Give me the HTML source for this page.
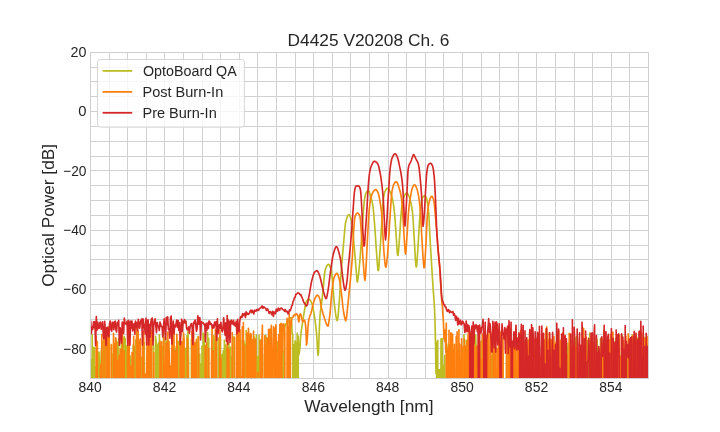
<!DOCTYPE html>
<html><head><meta charset="utf-8"><title>D4425 V20208 Ch. 6</title>
<style>
html,body{margin:0;padding:0;background:#fff;}
body{width:720px;height:432px;overflow:hidden;font-family:"Liberation Sans", sans-serif;}
svg{display:block;will-change:transform;}
svg text{font-family:"Liberation Sans", sans-serif;fill:#262626;}
</style></head><body>
<svg width="720" height="432" viewBox="0 0 720 432">
<rect x="0" y="0" width="720" height="432" fill="#ffffff"/>
<defs><clipPath id="ax"><rect x="90.0" y="51.84" width="558.0" height="326.15999999999997"/></clipPath></defs>
<g stroke="#d1d1d1" stroke-width="1" fill="none">
<line x1="109.5" y1="52.5" x2="109.5" y2="378.5"/>
<line x1="127.5" y1="52.5" x2="127.5" y2="378.5"/>
<line x1="146.5" y1="52.5" x2="146.5" y2="378.5"/>
<line x1="164.5" y1="52.5" x2="164.5" y2="378.5"/>
<line x1="183.5" y1="52.5" x2="183.5" y2="378.5"/>
<line x1="202.5" y1="52.5" x2="202.5" y2="378.5"/>
<line x1="220.5" y1="52.5" x2="220.5" y2="378.5"/>
<line x1="239.5" y1="52.5" x2="239.5" y2="378.5"/>
<line x1="257.5" y1="52.5" x2="257.5" y2="378.5"/>
<line x1="276.5" y1="52.5" x2="276.5" y2="378.5"/>
<line x1="295.5" y1="52.5" x2="295.5" y2="378.5"/>
<line x1="313.5" y1="52.5" x2="313.5" y2="378.5"/>
<line x1="332.5" y1="52.5" x2="332.5" y2="378.5"/>
<line x1="350.5" y1="52.5" x2="350.5" y2="378.5"/>
<line x1="369.5" y1="52.5" x2="369.5" y2="378.5"/>
<line x1="388.5" y1="52.5" x2="388.5" y2="378.5"/>
<line x1="406.5" y1="52.5" x2="406.5" y2="378.5"/>
<line x1="425.5" y1="52.5" x2="425.5" y2="378.5"/>
<line x1="443.5" y1="52.5" x2="443.5" y2="378.5"/>
<line x1="462.5" y1="52.5" x2="462.5" y2="378.5"/>
<line x1="481.5" y1="52.5" x2="481.5" y2="378.5"/>
<line x1="499.5" y1="52.5" x2="499.5" y2="378.5"/>
<line x1="518.5" y1="52.5" x2="518.5" y2="378.5"/>
<line x1="536.5" y1="52.5" x2="536.5" y2="378.5"/>
<line x1="555.5" y1="52.5" x2="555.5" y2="378.5"/>
<line x1="574.5" y1="52.5" x2="574.5" y2="378.5"/>
<line x1="592.5" y1="52.5" x2="592.5" y2="378.5"/>
<line x1="611.5" y1="52.5" x2="611.5" y2="378.5"/>
<line x1="629.5" y1="52.5" x2="629.5" y2="378.5"/>
<line x1="90.5" y1="67.5" x2="648.5" y2="67.5"/>
<line x1="90.5" y1="81.5" x2="648.5" y2="81.5"/>
<line x1="90.5" y1="96.5" x2="648.5" y2="96.5"/>
<line x1="90.5" y1="111.5" x2="648.5" y2="111.5"/>
<line x1="90.5" y1="126.5" x2="648.5" y2="126.5"/>
<line x1="90.5" y1="141.5" x2="648.5" y2="141.5"/>
<line x1="90.5" y1="156.5" x2="648.5" y2="156.5"/>
<line x1="90.5" y1="170.5" x2="648.5" y2="170.5"/>
<line x1="90.5" y1="185.5" x2="648.5" y2="185.5"/>
<line x1="90.5" y1="200.5" x2="648.5" y2="200.5"/>
<line x1="90.5" y1="215.5" x2="648.5" y2="215.5"/>
<line x1="90.5" y1="230.5" x2="648.5" y2="230.5"/>
<line x1="90.5" y1="245.5" x2="648.5" y2="245.5"/>
<line x1="90.5" y1="259.5" x2="648.5" y2="259.5"/>
<line x1="90.5" y1="274.5" x2="648.5" y2="274.5"/>
<line x1="90.5" y1="289.5" x2="648.5" y2="289.5"/>
<line x1="90.5" y1="304.5" x2="648.5" y2="304.5"/>
<line x1="90.5" y1="319.5" x2="648.5" y2="319.5"/>
<line x1="90.5" y1="334.5" x2="648.5" y2="334.5"/>
<line x1="90.5" y1="348.5" x2="648.5" y2="348.5"/>
<line x1="90.5" y1="363.5" x2="648.5" y2="363.5"/>
</g>
<g clip-path="url(#ax)" fill="none" stroke-width="1.65" stroke-linejoin="round" stroke-linecap="butt">
<path stroke="#bcbd22" d="M90.0,733.8 L90.6,733.8 L91.1,359.8 L91.7,733.8 L92.2,334.8 L92.8,733.8 L93.4,347.4 L93.9,733.8 L94.5,347.8 L95.0,733.8 L95.6,366.8 L96.2,733.8 L96.7,733.8 L97.3,346.6 L97.8,733.8 L98.4,733.8 L99.0,352.0 L99.5,363.1 L100.1,733.8 L100.6,733.8 L101.2,350.9 L101.8,733.8 L102.3,733.8 L102.9,340.8 L103.4,733.8 L104.0,733.8 L104.6,352.7 L105.1,335.7 L105.7,733.8 L106.2,338.9 L106.8,375.2 L107.4,733.8 L107.9,353.4 L108.5,733.8 L109.0,336.1 L109.6,347.3 L110.2,733.8 L110.7,733.8 L111.3,733.8 L111.8,733.8 L112.4,354.3 L113.0,733.8 L113.5,344.7 L114.1,733.8 L114.6,733.8 L115.2,361.5 L115.8,353.4 L116.3,733.8 L116.9,342.1 L117.4,362.2 L118.0,733.8 L118.6,338.6 L119.1,733.8 L119.7,733.8 L120.2,354.6 L120.8,733.8 L121.4,337.3 L121.9,733.8 L122.5,338.3 L123.0,733.8 L123.6,733.8 L124.2,336.6 L124.7,733.8 L125.3,338.5 L125.8,733.8 L126.4,354.0 L127.0,345.6 L127.5,733.8 L128.1,733.8 L128.6,733.8 L129.2,340.7 L129.8,733.8 L130.3,356.0 L130.9,733.8 L131.4,733.8 L132.0,733.8 L132.6,733.8 L133.1,345.2 L133.7,733.8 L134.2,733.8 L134.8,346.2 L135.4,346.7 L135.9,339.9 L136.5,733.8 L137.0,350.5 L137.6,361.0 L138.2,362.3 L138.7,733.8 L139.3,348.8 L139.8,733.8 L140.4,733.8 L141.0,733.8 L141.5,357.4 L142.1,733.8 L142.6,361.2 L143.2,733.8 L143.8,346.8 L144.3,342.6 L144.9,733.8 L145.4,733.8 L146.0,733.8 L146.6,733.8 L147.1,733.8 L147.7,348.9 L148.2,733.8 L148.8,343.6 L149.4,733.8 L149.9,346.2 L150.5,386.2 L151.0,733.8 L151.6,733.8 L152.2,733.8 L152.7,733.8 L153.3,345.2 L153.8,733.8 L154.4,733.8 L155.0,733.8 L155.5,336.4 L156.1,341.0 L156.6,733.8 L157.2,344.8 L157.8,733.8 L158.3,343.1 L158.9,733.8 L159.4,334.9 L160.0,733.8 L160.6,346.0 L161.1,354.2 L161.7,733.8 L162.2,346.2 L162.8,733.8 L163.4,329.2 L163.9,733.8 L164.5,733.8 L165.0,733.8 L165.6,341.0 L166.2,355.4 L166.7,733.8 L167.3,337.8 L167.8,341.0 L168.4,733.8 L169.0,350.7 L169.5,733.8 L170.1,733.8 L170.6,733.8 L171.2,733.8 L171.8,733.8 L172.3,358.3 L172.9,349.2 L173.4,733.8 L174.0,733.8 L174.6,733.8 L175.1,349.3 L175.7,733.8 L176.2,346.2 L176.8,733.8 L177.4,733.8 L177.9,341.4 L178.5,733.8 L179.0,341.5 L179.6,733.8 L180.2,733.8 L180.7,733.8 L181.3,345.6 L181.8,733.8 L182.4,733.8 L183.0,356.8 L183.5,338.5 L184.1,733.8 L184.6,733.8 L185.2,351.9 L185.8,348.4 L186.3,733.8 L186.9,335.7 L187.4,733.8 L188.0,331.6 L188.6,362.1 L189.1,733.8 L189.7,733.8 L190.2,733.8 L190.8,733.8 L191.4,339.6 L191.9,350.4 L192.5,733.8 L193.0,733.8 L193.6,733.8 L194.2,733.8 L194.7,733.8 L195.3,733.8 L195.8,342.5 L196.4,733.8 L197.0,341.4 L197.5,733.8 L198.1,336.5 L198.6,348.5 L199.2,733.8 L199.8,354.0 L200.3,733.8 L200.9,364.3 L201.4,733.8 L202.0,346.1 L202.6,733.8 L203.1,333.0 L203.7,733.8 L204.2,334.0 L204.8,733.8 L205.4,347.1 L205.9,347.4 L206.5,733.8 L207.0,733.8 L207.6,332.6 L208.2,733.8 L208.7,338.4 L209.3,733.8 L209.8,733.8 L210.4,733.8 L211.0,733.8 L211.5,733.8 L212.1,348.3 L212.6,733.8 L213.2,733.8 L213.8,335.7 L214.3,344.3 L214.9,733.8 L215.4,376.5 L216.0,733.8 L216.6,733.8 L217.1,733.8 L217.7,733.8 L218.2,337.8 L218.8,733.8 L219.4,348.0 L219.9,733.8 L220.5,336.4 L221.0,733.8 L221.6,733.8 L222.2,354.5 L222.7,733.8 L223.3,350.6 L223.8,733.8 L224.4,340.0 L225.0,733.8 L225.5,345.1 L226.1,733.8 L226.6,348.3 L227.2,733.8 L227.8,347.5 L228.3,733.8 L228.9,343.1 L229.4,733.8 L230.0,733.8 L230.6,347.0 L231.1,733.8 L231.7,356.9 L232.2,733.8 L232.8,345.6 L233.4,733.8 L233.9,336.6 L234.5,733.8 L235.0,385.6 L235.6,733.8 L236.2,733.8 L236.7,733.8 L237.3,332.8 L237.8,733.8 L238.4,336.8 L239.0,354.0 L239.5,733.8 L240.1,733.8 L240.6,339.6 L241.2,733.8 L241.8,733.8 L242.3,733.8 L242.9,372.8 L243.4,733.8 L244.0,341.0 L244.6,733.8 L245.1,344.3 L245.7,733.8 L246.2,330.6 L246.8,733.8 L247.4,733.8 L247.9,733.8 L248.5,733.8 L249.0,733.8 L249.6,353.9 L250.2,733.8 L250.7,340.5 L251.3,733.8 L251.8,733.8 L252.4,343.0 L253.0,733.8 L253.5,733.8 L254.1,337.1 L254.6,348.3 L255.2,733.8 L255.8,733.8 L256.3,334.9 L256.9,733.8 L257.4,733.8 L258.0,356.6 L258.6,733.8 L259.1,335.2 L259.7,733.8 L260.2,339.8 L260.8,733.8 L261.4,339.7 L261.9,733.8 L262.5,354.9 L263.0,733.8 L263.6,733.8 L264.2,733.8 L264.7,344.0 L265.3,733.8 L265.8,335.2 L266.4,733.8 L267.0,733.8 L267.5,733.8 L268.1,338.3 L268.6,733.8 L269.2,348.2 L269.8,733.8 L270.3,341.3 L270.9,356.8 L271.4,733.8 L272.0,357.3 L272.6,733.8 L273.1,733.8 L273.7,733.8 L274.2,338.2 L274.8,733.8 L275.4,354.2 L275.9,733.8 L276.5,343.2 L277.0,733.8 L277.6,341.8 L278.2,733.8 L278.7,733.8 L279.3,346.8 L279.8,356.0 L280.4,733.8 L281.0,733.8 L281.5,337.6 L282.1,366.9 L282.6,733.8 L283.2,351.3 L283.8,733.8 L284.3,330.9 L284.9,326.7 L285.4,324.4 L286.0,323.8 L286.6,323.5 L287.1,320.8 L287.7,321.3 L288.2,322.4 L288.8,318.7 L289.4,318.2 L289.9,318.5 L290.5,317.8 L291.0,317.7 L291.6,321.4 L292.2,334.2 L292.7,334.5 L293.3,733.8 L293.8,344.9 L294.4,733.8 L295.0,340.7 L295.5,733.8 L296.1,342.3 L296.6,733.8 L297.2,333.4 L297.8,733.8 L298.3,336.0 L298.9,354.8 L299.4,352.3 L300.0,347.4 L300.5,338.8 L301.0,333.2 L301.5,329.4 L302.0,326.3 L302.5,323.2 L303.0,319.9 L303.5,316.5 L304.0,313.3 L304.5,310.4 L305.0,307.3 L305.5,304.4 L306.0,302.2 L306.5,301.3 L307.0,300.6 L307.5,300.0 L308.0,299.5 L308.5,299.3 L309.0,299.2 L309.5,299.5 L310.0,299.9 L310.5,300.6 L311.0,301.5 L311.5,302.6 L312.0,303.7 L312.5,305.6 L313.0,308.0 L313.5,310.5 L314.0,313.2 L314.5,316.4 L315.0,319.8 L315.5,323.7 L316.0,328.1 L316.5,333.4 L317.0,339.4 L317.5,350.2 L318.0,355.3 L318.5,352.8 L319.0,337.3 L319.5,325.3 L320.0,315.5 L320.5,310.7 L321.0,307.2 L321.5,303.8 L322.0,299.6 L322.5,295.3 L323.0,290.7 L323.5,285.1 L324.0,279.1 L324.5,273.9 L325.0,270.8 L325.5,269.2 L326.0,267.8 L326.5,266.6 L327.0,265.6 L327.5,264.9 L328.0,264.5 L328.5,264.3 L329.0,264.6 L329.5,265.3 L330.0,266.4 L330.5,267.9 L331.0,269.6 L331.5,271.8 L332.0,276.1 L332.5,282.0 L333.0,288.3 L333.5,293.9 L334.0,299.9 L334.5,305.3 L335.0,309.3 L335.5,313.0 L336.0,316.3 L336.5,319.0 L337.0,320.5 L337.5,319.7 L338.0,316.6 L338.5,311.2 L339.0,305.1 L339.5,298.7 L340.0,290.6 L340.5,281.7 L341.0,274.2 L341.5,267.6 L342.0,261.4 L342.5,255.6 L343.0,250.0 L343.5,244.4 L344.0,238.5 L344.5,232.5 L345.0,227.3 L345.5,223.2 L346.0,220.9 L346.5,219.1 L347.0,217.6 L347.5,216.3 L348.0,215.3 L348.5,214.8 L349.0,214.7 L349.5,215.2 L350.0,216.2 L350.5,217.5 L351.0,219.1 L351.5,220.9 L352.0,223.3 L352.5,227.3 L353.0,232.6 L353.5,238.5 L354.0,244.5 L354.5,250.0 L355.0,255.9 L355.5,262.0 L356.0,268.1 L356.5,274.5 L357.0,281.5 L357.5,281.9 L358.0,279.0 L358.5,274.6 L359.0,270.0 L359.5,265.0 L360.0,259.1 L360.5,252.5 L361.0,245.6 L361.5,238.7 L362.0,231.8 L362.5,224.6 L363.0,217.4 L363.5,210.6 L364.0,203.8 L364.5,199.4 L365.0,196.7 L365.5,194.5 L366.0,193.1 L366.5,192.2 L367.0,191.6 L367.5,191.1 L368.0,190.8 L368.5,190.9 L369.0,191.5 L369.5,192.6 L370.0,194.1 L370.5,195.7 L371.0,197.3 L371.5,199.1 L372.0,201.2 L372.5,203.7 L373.0,206.7 L373.5,211.0 L374.0,216.7 L374.5,223.3 L375.0,230.0 L375.5,237.2 L376.0,245.1 L376.5,252.4 L377.0,258.9 L377.5,265.6 L378.0,270.3 L378.5,270.7 L379.0,265.5 L379.5,257.9 L380.0,250.8 L380.5,243.0 L381.0,234.8 L381.5,226.7 L382.0,217.9 L382.5,209.4 L383.0,203.0 L383.5,198.4 L384.0,194.7 L384.5,192.7 L385.0,191.5 L385.5,190.4 L386.0,189.5 L386.5,188.9 L387.0,188.4 L387.5,188.3 L388.0,188.5 L388.5,188.9 L389.0,189.6 L389.5,190.5 L390.0,191.5 L390.5,192.6 L391.0,193.8 L391.5,195.2 L392.0,197.1 L392.5,199.2 L393.0,201.7 L393.5,204.5 L394.0,208.3 L394.5,213.0 L395.0,218.9 L395.5,226.3 L396.0,233.4 L396.5,241.3 L397.0,249.3 L397.5,254.7 L398.0,255.4 L398.5,251.4 L399.0,245.0 L399.5,238.3 L400.0,231.0 L400.5,222.6 L401.0,215.2 L401.5,209.7 L402.0,205.3 L402.5,202.3 L403.0,199.7 L403.5,197.8 L404.0,196.6 L404.5,195.5 L405.0,194.6 L405.5,193.8 L406.0,193.3 L406.5,193.0 L407.0,193.1 L407.5,193.5 L408.0,194.3 L408.5,195.2 L409.0,196.3 L409.5,197.5 L410.0,199.1 L410.5,201.2 L411.0,203.5 L411.5,206.0 L412.0,208.8 L412.5,212.3 L413.0,217.6 L413.5,226.0 L414.0,235.1 L414.5,243.2 L415.0,252.4 L415.5,260.8 L416.0,266.4 L416.5,267.0 L417.0,262.2 L417.5,254.5 L418.0,246.7 L418.5,238.8 L419.0,230.0 L419.5,221.6 L420.0,214.8 L420.5,209.3 L421.0,205.0 L421.5,201.7 L422.0,199.2 L422.5,197.9 L423.0,196.9 L423.5,196.2 L424.0,195.8 L424.5,195.8 L425.0,196.1 L425.5,196.5 L426.0,197.1 L426.5,198.0 L427.0,200.3 L427.5,203.3 L428.0,206.2 L428.5,210.0 L429.0,217.5 L429.5,228.1 L430.0,238.3 L430.5,246.8 L431.0,254.8 L431.5,262.8 L432.0,270.9 L432.5,279.0 L433.0,286.7 L433.5,293.4 L434.0,300.1 L434.5,308.5 L435.0,320.0 L435.5,342.9 L436.0,373.7 L436.6,342.4 L437.1,733.8 L437.7,340.4 L438.2,733.8 L438.8,369.9 L439.4,733.8 L439.9,369.6 L440.5,733.8 L441.0,338.8 L441.6,733.8 L442.2,338.5 L442.7,733.8 L443.3,365.4 L443.8,733.8 L444.4,368.9 L444.9,355.3 L445.5,733.8 L446.1,733.8 L446.6,733.8 L447.2,362.1 L447.7,349.2 L448.3,344.2 L448.9,733.8 L449.4,366.3 L450.0,362.9 L450.5,733.8 L451.1,733.8 L451.7,395.5 L452.2,733.8 L452.8,406.4 L453.3,733.8 L453.9,733.8 L454.5,733.8 L455.0,733.8 L455.6,733.8 L456.1,733.8 L456.7,733.8 L457.3,387.7 L457.8,733.8 L458.4,733.8 L458.9,733.8 L459.5,733.8 L460.1,733.8 L460.6,733.8 L461.2,733.8 L461.7,357.0 L462.3,733.8 L462.8,377.4 L463.4,733.8 L464.0,334.8 L464.5,733.8 L465.1,733.8 L465.6,733.8 L466.2,340.4 L466.8,733.8 L467.3,733.8 L467.9,361.7 L468.4,733.8 L469.0,358.8 L469.6,733.8 L470.1,733.8 L470.7,350.3 L471.2,354.3 L471.8,352.4 L472.4,733.8 L472.9,341.3 L473.5,366.3 L474.0,733.8 L474.6,347.4 L475.2,733.8 L475.7,335.1 L476.3,353.7 L476.8,733.8 L477.4,352.5 L478.0,733.8 L478.5,733.8 L479.1,733.8 L479.6,733.8 L480.2,733.8 L480.7,733.8 L481.3,355.9 L481.9,340.3 L482.4,349.1 L483.0,733.8 L483.5,340.4 L484.1,733.8 L484.7,733.8 L485.2,733.8 L485.8,733.8 L486.3,733.8 L486.9,358.3 L487.5,733.8 L488.0,733.8 L488.6,345.8 L489.1,733.8 L489.7,382.4 L490.3,733.8 L490.8,355.5 L491.4,372.2 L491.9,733.8 L492.5,342.2 L493.1,733.8 L493.6,357.0 L494.2,733.8 L494.7,353.0 L495.3,733.8 L495.9,368.6 L496.4,733.8 L497.0,733.8 L497.5,733.8 L498.1,733.8 L498.6,733.8 L499.2,733.8 L499.8,344.6 L500.3,348.8 L500.9,733.8 L501.4,349.4 L502.0,733.8 L502.6,364.9 L503.1,353.6 L503.7,733.8 L504.2,733.8 L504.8,733.8 L505.4,733.8 L505.9,733.8 L506.5,345.4 L507.0,733.8 L507.6,733.8 L508.2,733.8 L508.7,346.7 L509.3,733.8 L509.8,343.3 L510.4,733.8 L511.0,733.8 L511.5,733.8 L512.1,733.8 L512.6,344.6 L513.2,733.8 L513.8,733.8 L514.3,733.8 L514.9,342.1 L515.4,386.1 L516.0,385.0 L516.5,361.1 L517.1,412.1 L517.7,733.8 L518.2,733.8 L518.8,339.7 L519.3,733.8 L519.9,733.8 L520.5,733.8 L521.0,354.9 L521.6,347.6 L522.1,733.8 L522.7,377.7 L523.3,733.8 L523.8,358.2 L524.4,733.8 L524.9,733.8 L525.5,733.8 L526.1,380.7 L526.6,733.8 L527.2,347.4 L527.7,733.8 L528.3,340.2 L528.9,733.8 L529.4,733.8 L530.0,343.0 L530.5,733.8 L531.1,733.8 L531.7,330.7 L532.2,733.8 L532.8,345.8 L533.3,733.8 L533.9,351.1 L534.4,353.9 L535.0,733.8 L535.6,359.3 L536.1,355.7 L536.7,341.0 L537.2,733.8 L537.8,350.4 L538.4,733.8 L538.9,369.2 L539.5,733.8 L540.0,733.8 L540.6,733.8 L541.2,733.8 L541.7,345.7 L542.3,383.5 L542.8,733.8 L543.4,733.8 L544.0,733.8 L544.5,733.8 L545.1,339.2 L545.6,733.8 L546.2,334.7 L546.8,733.8 L547.3,333.0 L547.9,733.8 L548.4,733.8 L549.0,440.2 L549.6,733.8 L550.1,339.7 L550.7,733.8 L551.2,733.8 L551.8,733.8 L552.3,348.7 L552.9,733.8 L553.5,733.8 L554.0,341.4 L554.6,733.8 L555.1,344.2 L555.7,348.6 L556.3,733.8 L556.8,343.3 L557.4,363.7 L557.9,733.8 L558.5,733.8 L559.1,390.9 L559.6,733.8 L560.2,346.5 L560.7,733.8 L561.3,733.8 L561.9,733.8 L562.4,371.5 L563.0,409.1 L563.5,733.8 L564.1,347.0 L564.7,377.4 L565.2,733.8 L565.8,733.8 L566.3,733.8 L566.9,346.8 L567.5,733.8 L568.0,343.1 L568.6,733.8 L569.1,733.8 L569.7,359.4 L570.2,375.1 L570.8,357.7 L571.4,733.8 L571.9,733.8 L572.5,352.5 L573.0,346.7 L573.6,733.8 L574.2,733.8 L574.7,338.0 L575.3,733.8 L575.8,733.8 L576.4,336.5 L577.0,347.7 L577.5,733.8 L578.1,352.5 L578.6,733.8 L579.2,390.3 L579.8,354.2 L580.3,733.8 L580.9,733.8 L581.4,733.8 L582.0,733.8 L582.6,344.7 L583.1,361.3 L583.7,733.8 L584.2,733.8 L584.8,354.5 L585.4,733.8 L585.9,733.8 L586.5,350.0 L587.0,733.8 L587.6,340.7 L588.1,733.8 L588.7,358.6 L589.3,733.8 L589.8,333.1 L590.4,733.8 L590.9,350.1 L591.5,733.8 L592.1,733.8 L592.6,345.5 L593.2,733.8 L593.7,733.8 L594.3,349.8 L594.9,733.8 L595.4,733.8 L596.0,733.8 L596.5,733.8 L597.1,339.6 L597.7,733.8 L598.2,733.8 L598.8,733.8 L599.3,733.8 L599.9,733.8 L600.5,338.6 L601.0,733.8 L601.6,733.8 L602.1,338.7 L602.7,733.8 L603.3,733.8 L603.8,733.8 L604.4,733.8 L604.9,392.6 L605.5,733.8 L606.0,344.5 L606.6,733.8 L607.2,733.8 L607.7,339.3 L608.3,733.8 L608.8,356.2 L609.4,355.9 L610.0,733.8 L610.5,733.8 L611.1,345.4 L611.6,363.3 L612.2,733.8 L612.8,733.8 L613.3,378.7 L613.9,371.9 L614.4,733.8 L615.0,733.8 L615.6,338.2 L616.1,733.8 L616.7,733.8 L617.2,733.8 L617.8,365.2 L618.4,733.8 L618.9,733.8 L619.5,733.8 L620.0,733.8 L620.6,733.8 L621.2,364.9 L621.7,733.8 L622.3,335.5 L622.8,733.8 L623.4,348.4 L623.9,733.8 L624.5,733.8 L625.1,346.8 L625.6,733.8 L626.2,733.8 L626.7,354.8 L627.3,733.8 L627.9,358.6 L628.4,733.8 L629.0,345.0 L629.5,409.2 L630.1,733.8 L630.7,733.8 L631.2,733.8 L631.8,343.0 L632.3,334.7 L632.9,733.8 L633.5,367.4 L634.0,733.8 L634.6,733.8 L635.1,338.2 L635.7,733.8 L636.3,357.5 L636.8,733.8 L637.4,733.8 L637.9,337.7 L638.5,733.8 L639.1,345.4 L639.6,357.6 L640.2,733.8 L640.7,733.8 L641.3,361.3 L641.8,733.8 L642.4,358.1 L643.0,733.8 L643.5,733.8 L644.1,368.3 L644.6,347.5 L645.2,338.0 L645.8,733.8 L646.3,348.2 L646.9,733.8 L647.4,733.8 L648.0,733.8"/>
<path stroke="#ff7f0e" d="M90.0,733.8 L90.6,733.8 L91.1,733.8 L91.7,733.8 L92.2,733.8 L92.8,733.8 L93.4,733.8 L93.9,733.8 L94.5,733.8 L95.0,733.8 L95.6,733.8 L96.2,336.4 L96.7,733.8 L97.3,341.5 L97.8,733.8 L98.4,733.8 L99.0,733.8 L99.5,733.8 L100.1,378.6 L100.6,364.8 L101.2,733.8 L101.8,334.5 L102.3,733.8 L102.9,733.8 L103.4,733.8 L104.0,328.0 L104.6,733.8 L105.1,733.8 L105.7,733.8 L106.2,328.4 L106.8,733.8 L107.4,335.2 L107.9,349.1 L108.5,733.8 L109.0,326.5 L109.6,733.8 L110.2,733.8 L110.7,733.8 L111.3,344.6 L111.8,733.8 L112.4,733.8 L113.0,733.8 L113.5,333.4 L114.1,348.3 L114.6,343.6 L115.2,733.8 L115.8,337.9 L116.3,343.1 L116.9,733.8 L117.4,360.3 L118.0,733.8 L118.6,733.8 L119.1,355.8 L119.7,733.8 L120.2,349.2 L120.8,349.8 L121.4,733.8 L121.9,733.8 L122.5,328.0 L123.0,733.8 L123.6,733.8 L124.2,350.7 L124.7,733.8 L125.3,733.8 L125.8,733.8 L126.4,733.8 L127.0,733.8 L127.5,355.7 L128.1,335.4 L128.6,733.8 L129.2,336.4 L129.8,733.8 L130.3,365.8 L130.9,733.8 L131.4,733.8 L132.0,352.5 L132.6,733.8 L133.1,733.8 L133.7,336.3 L134.2,733.8 L134.8,733.8 L135.4,733.8 L135.9,733.8 L136.5,324.8 L137.0,733.8 L137.6,733.8 L138.2,331.2 L138.7,733.8 L139.3,340.3 L139.8,733.8 L140.4,338.9 L140.9,733.8 L141.5,733.8 L142.1,733.8 L142.6,339.7 L143.2,733.8 L143.7,331.2 L144.3,733.8 L144.9,733.8 L145.4,374.1 L146.0,733.8 L146.5,374.6 L147.1,343.7 L147.7,733.8 L148.2,339.5 L148.8,357.0 L149.3,733.8 L149.9,339.0 L150.5,733.8 L151.0,347.6 L151.6,330.3 L152.1,733.8 L152.7,733.8 L153.3,733.8 L153.8,352.5 L154.4,733.8 L154.9,733.8 L155.5,733.8 L156.1,733.8 L156.6,733.8 L157.2,733.8 L157.7,733.8 L158.3,733.8 L158.9,733.8 L159.4,733.8 L160.0,341.0 L160.5,733.8 L161.1,733.8 L161.7,341.8 L162.2,733.8 L162.8,733.8 L163.3,733.8 L163.9,337.7 L164.5,733.8 L165.0,733.8 L165.6,365.0 L166.1,342.9 L166.7,352.8 L167.3,733.8 L167.8,332.1 L168.4,733.8 L168.9,341.2 L169.5,369.1 L170.1,733.8 L170.6,366.0 L171.2,733.8 L171.7,353.0 L172.3,335.5 L172.9,733.8 L173.4,733.8 L174.0,325.0 L174.5,733.8 L175.1,351.0 L175.7,733.8 L176.2,733.8 L176.8,334.2 L177.3,351.2 L177.9,733.8 L178.5,733.8 L179.0,733.8 L179.6,733.8 L180.1,336.8 L180.7,733.8 L181.3,733.8 L181.8,341.5 L182.4,347.7 L182.9,733.8 L183.5,333.0 L184.1,339.6 L184.6,733.8 L185.2,733.8 L185.7,383.6 L186.3,733.8 L186.9,733.8 L187.4,338.4 L188.0,365.3 L188.5,733.8 L189.1,733.8 L189.7,733.8 L190.2,733.8 L190.8,733.8 L191.3,733.8 L191.9,331.6 L192.5,733.8 L193.0,370.9 L193.6,332.0 L194.1,733.8 L194.7,342.8 L195.3,733.8 L195.8,733.8 L196.4,339.4 L196.9,733.8 L197.5,733.8 L198.1,733.8 L198.6,336.8 L199.2,733.8 L199.7,733.8 L200.3,733.8 L200.9,733.8 L201.4,733.8 L202.0,733.8 L202.5,733.8 L203.1,733.8 L203.7,733.8 L204.2,733.8 L204.8,733.8 L205.3,345.5 L205.9,733.8 L206.5,343.0 L207.0,733.8 L207.6,733.8 L208.1,733.8 L208.7,348.5 L209.3,733.8 L209.8,733.8 L210.4,733.8 L210.9,733.8 L211.5,362.2 L212.1,326.3 L212.6,733.8 L213.2,350.8 L213.7,733.8 L214.3,733.8 L214.9,394.4 L215.4,329.7 L216.0,733.8 L216.5,330.9 L217.1,733.8 L217.7,733.8 L218.2,733.8 L218.8,733.8 L219.3,733.8 L219.9,330.4 L220.5,733.8 L221.0,358.2 L221.6,733.8 L222.1,733.8 L222.7,733.8 L223.3,733.8 L223.8,733.8 L224.4,733.8 L224.9,733.8 L225.5,733.8 L226.1,733.8 L226.6,733.8 L227.2,336.5 L227.7,733.8 L228.3,379.8 L228.9,349.0 L229.4,733.8 L230.0,733.8 L230.5,733.8 L231.1,733.8 L231.7,733.8 L232.2,332.6 L232.8,733.8 L233.3,733.8 L233.9,733.8 L234.5,337.6 L235.0,733.8 L235.6,733.8 L236.1,733.8 L236.7,323.1 L237.3,733.8 L237.8,733.8 L238.4,330.5 L238.9,345.6 L239.5,733.8 L240.1,329.8 L240.6,733.8 L241.2,376.6 L241.7,733.8 L242.3,326.7 L242.8,733.8 L243.4,322.6 L244.0,733.8 L244.5,345.6 L245.1,733.8 L245.6,733.8 L246.2,733.8 L246.8,333.1 L247.3,733.8 L247.9,733.8 L248.4,328.3 L249.0,338.1 L249.6,733.8 L250.1,337.1 L250.7,333.5 L251.2,335.3 L251.8,733.8 L252.4,339.9 L252.9,733.8 L253.5,331.0 L254.0,733.8 L254.6,733.8 L255.2,340.9 L255.7,339.0 L256.3,733.8 L256.8,733.8 L257.4,733.8 L258.0,372.3 L258.5,733.8 L259.1,733.8 L259.6,733.8 L260.2,341.1 L260.8,341.2 L261.3,733.8 L261.9,340.8 L262.4,325.2 L263.0,733.8 L263.6,733.8 L264.1,733.8 L264.7,335.8 L265.2,350.4 L265.8,346.4 L266.4,733.8 L266.9,337.9 L267.5,342.7 L268.0,733.8 L268.6,329.2 L269.2,733.8 L269.7,329.2 L270.3,733.8 L270.8,332.1 L271.4,325.3 L272.0,733.8 L272.5,370.7 L273.1,348.8 L273.6,326.8 L274.2,328.9 L274.8,733.8 L275.3,334.7 L275.9,324.9 L276.4,348.2 L277.0,733.8 L277.6,733.8 L278.1,362.8 L278.7,334.6 L279.2,733.8 L279.8,324.5 L280.4,733.8 L280.9,323.3 L281.5,733.8 L282.0,324.1 L282.6,352.4 L283.2,325.0 L283.7,323.8 L284.3,326.2 L284.8,332.4 L285.4,733.8 L286.0,733.8 L286.5,733.8 L287.1,318.2 L287.6,327.5 L288.2,328.3 L288.8,733.8 L289.3,314.0 L289.9,733.8 L290.4,321.0 L291.0,326.3 L291.5,320.2 L292.0,317.8 L292.5,317.2 L293.0,317.2 L293.5,315.8 L294.0,315.0 L294.5,315.7 L295.0,314.3 L295.5,315.0 L296.0,313.9 L296.5,314.3 L297.0,314.1 L297.5,315.3 L298.0,316.1 L298.5,320.7 L299.0,321.8 L299.5,315.5 L300.0,314.4 L300.5,313.9 L301.0,314.8 L301.5,317.3 L302.0,319.4 L302.5,321.8 L303.0,321.2 L303.5,321.2 L304.0,320.0 L304.5,320.2 L305.0,321.3 L305.5,324.9 L306.0,330.9 L306.5,345.1 L307.0,342.3 L307.5,335.4 L308.0,327.2 L308.5,321.8 L309.0,318.7 L309.5,317.2 L310.0,315.4 L310.5,314.5 L311.0,313.3 L311.5,311.3 L312.0,309.1 L312.5,306.8 L313.0,304.9 L313.5,302.9 L314.0,301.5 L314.5,299.7 L315.0,298.3 L315.5,297.3 L316.0,296.5 L316.5,295.7 L317.0,295.2 L317.5,295.1 L318.0,295.4 L318.5,296.1 L319.0,297.0 L319.5,298.2 L320.0,299.7 L320.5,302.2 L321.0,305.6 L321.5,308.1 L322.0,309.9 L322.5,311.8 L323.0,313.7 L323.5,315.1 L324.0,316.6 L324.5,318.2 L325.0,319.5 L325.5,321.3 L326.0,322.8 L326.5,324.1 L327.0,325.4 L327.5,325.7 L328.0,326.2 L328.5,324.5 L329.0,321.2 L329.5,317.6 L330.0,313.8 L330.5,308.4 L331.0,301.9 L331.5,295.7 L332.0,290.8 L332.5,286.7 L333.0,282.9 L333.5,279.8 L334.0,277.8 L334.5,276.5 L335.0,275.4 L335.5,274.4 L336.0,273.8 L336.5,273.4 L337.0,273.4 L337.5,273.9 L338.0,275.0 L338.5,276.5 L339.0,278.3 L339.5,280.2 L340.0,282.6 L340.5,286.0 L341.0,290.0 L341.5,294.2 L342.0,298.4 L342.5,303.4 L343.0,307.9 L343.5,311.2 L344.0,314.0 L344.5,316.8 L345.0,319.0 L345.5,320.6 L346.0,320.0 L346.5,317.6 L347.0,313.3 L347.5,308.2 L348.0,303.3 L348.5,298.7 L349.0,293.8 L349.5,288.7 L350.0,283.7 L350.5,278.6 L351.0,273.3 L351.5,267.7 L352.0,261.9 L352.5,255.0 L353.0,244.6 L353.5,233.3 L354.0,225.9 L354.5,220.0 L355.0,216.7 L355.5,215.4 L356.0,214.4 L356.5,213.6 L357.0,213.2 L357.5,213.0 L358.0,213.2 L358.5,213.6 L359.0,214.4 L359.5,215.4 L360.0,216.7 L360.5,220.4 L361.0,227.4 L361.5,235.3 L362.0,242.8 L362.5,251.2 L363.0,259.2 L363.5,265.8 L364.0,272.5 L364.5,278.0 L365.0,280.3 L365.5,276.2 L366.0,267.4 L366.5,258.5 L367.0,248.3 L367.5,238.3 L368.0,228.9 L368.5,219.8 L369.0,212.3 L369.5,207.1 L370.0,202.9 L370.5,199.7 L371.0,197.5 L371.5,195.8 L372.0,194.3 L372.5,193.1 L373.0,192.1 L373.5,191.4 L374.0,190.8 L374.5,190.2 L375.0,189.8 L375.5,189.5 L376.0,189.5 L376.5,189.9 L377.0,190.6 L377.5,191.5 L378.0,192.6 L378.5,193.9 L379.0,195.8 L379.5,198.5 L380.0,201.5 L380.5,204.5 L381.0,207.8 L381.5,211.9 L382.0,218.5 L382.5,228.3 L383.0,237.1 L383.5,245.5 L384.0,252.7 L384.5,258.2 L385.0,263.3 L385.5,266.8 L386.0,267.2 L386.5,264.6 L387.0,260.0 L387.5,255.0 L388.0,248.9 L388.5,241.2 L389.0,233.1 L389.5,225.3 L390.0,217.1 L390.5,209.3 L391.0,202.3 L391.5,195.7 L392.0,191.4 L392.5,188.8 L393.0,186.6 L393.5,185.1 L394.0,184.0 L394.5,183.2 L395.0,182.5 L395.5,182.0 L396.0,181.7 L396.5,181.8 L397.0,182.4 L397.5,183.4 L398.0,184.7 L398.5,186.1 L399.0,187.7 L399.5,189.2 L400.0,191.0 L400.5,193.0 L401.0,195.5 L401.5,198.6 L402.0,202.9 L402.5,210.1 L403.0,218.0 L403.5,226.4 L404.0,235.0 L404.5,242.7 L405.0,250.5 L405.5,254.2 L406.0,251.0 L406.5,243.7 L407.0,236.0 L407.5,228.3 L408.0,219.7 L408.5,212.3 L409.0,207.2 L409.5,203.1 L410.0,199.7 L410.5,196.7 L411.0,193.9 L411.5,191.2 L412.0,189.0 L412.5,187.5 L413.0,186.5 L413.5,185.6 L414.0,184.9 L414.5,184.7 L415.0,185.0 L415.5,185.7 L416.0,186.7 L416.5,187.8 L417.0,189.1 L417.5,190.9 L418.0,193.1 L418.5,195.7 L419.0,198.7 L419.5,202.2 L420.0,206.9 L420.5,212.7 L421.0,220.7 L421.5,230.9 L422.0,239.9 L422.5,248.5 L423.0,257.0 L423.5,264.0 L424.0,267.9 L424.5,267.0 L425.0,260.7 L425.5,251.9 L426.0,243.1 L426.5,232.2 L427.0,221.1 L427.5,213.3 L428.0,208.7 L428.5,205.1 L429.0,202.5 L429.5,200.7 L430.0,199.1 L430.5,197.8 L431.0,196.9 L431.5,196.3 L432.0,196.4 L432.5,197.0 L433.0,198.0 L433.5,199.4 L434.0,201.7 L434.5,206.5 L435.0,212.0 L435.5,217.2 L436.0,222.7 L436.5,228.6 L437.0,234.8 L437.5,241.7 L438.0,248.6 L438.5,254.9 L439.0,260.3 L439.5,265.7 L440.0,272.0 L440.5,280.6 L441.0,290.2 L441.5,297.6 L442.0,303.4 L442.5,307.8 L443.0,316.0 L443.5,323.7 L444.0,338.9 L444.5,329.9 L444.9,341.5 L445.4,334.6 L445.8,352.6 L446.3,323.1 L446.7,733.8 L447.2,348.4 L447.6,733.8 L448.1,348.8 L448.5,733.8 L449.0,330.3 L449.4,733.8 L449.9,344.7 L450.3,733.8 L450.8,332.9 L451.2,733.8 L451.7,333.6 L452.1,733.8 L452.6,334.5 L453.0,733.8 L453.5,349.9 L453.9,733.8 L454.4,344.4 L454.8,733.8 L455.3,392.5 L455.7,733.8 L456.2,336.5 L456.6,733.8 L457.1,331.7 L457.5,733.8 L458.0,350.8 L458.4,733.8 L458.9,329.8 L459.3,733.8 L459.8,344.4 L460.2,733.8 L460.7,360.5 L461.1,733.8 L461.6,338.8 L462.0,733.8 L462.5,346.8 L462.9,733.8 L463.4,377.2 L463.8,733.8 L464.3,338.7 L464.7,733.8 L465.2,345.9 L465.6,733.8 L466.1,348.4 L466.5,733.8 L467.0,341.6 L467.4,733.8 L467.9,338.5 L468.3,333.1 L468.8,733.8 L469.2,337.4 L469.7,733.8 L470.1,356.9 L470.6,733.8 L471.0,733.8 L471.5,733.8 L471.9,333.0 L472.4,733.8 L472.8,733.8 L473.3,733.8 L473.7,409.1 L474.2,328.8 L474.6,733.8 L475.1,353.9 L475.5,733.8 L476.0,347.6 L476.4,368.4 L476.9,345.7 L477.3,733.8 L477.8,733.8 L478.2,388.7 L478.7,733.8 L479.1,733.8 L479.6,733.8 L480.0,341.5 L480.5,733.8 L480.9,359.5 L481.4,733.8 L481.8,733.8 L482.3,334.1 L482.7,733.8 L483.2,343.0 L483.6,336.7 L484.1,733.8 L484.5,733.8 L485.0,733.8 L485.4,733.8 L485.9,340.3 L486.3,733.8 L486.8,335.5 L487.2,733.8 L487.7,733.8 L488.1,335.5 L488.6,733.8 L489.0,330.9 L489.5,733.8 L489.9,733.8 L490.4,733.8 L490.8,332.7 L491.3,733.8 L491.7,380.8 L492.2,733.8 L492.6,733.8 L493.1,344.9 L493.5,733.8 L494.0,337.7 L494.4,733.8 L494.9,733.8 L495.3,333.9 L495.8,733.8 L496.2,733.8 L496.7,733.8 L497.1,348.6 L497.6,733.8 L498.0,733.8 L498.5,336.3 L498.9,733.8 L499.4,733.8 L499.8,336.5 L500.3,733.8 L500.7,332.1 L501.2,733.8 L501.6,733.8 L502.1,733.8 L502.5,358.1 L503.0,337.6 L503.4,733.8 L503.9,733.8 L504.3,733.8 L504.8,733.8 L505.2,733.8 L505.7,733.8 L506.1,733.8 L506.6,363.8 L507.0,336.1 L507.5,733.8 L507.9,733.8 L508.4,733.8 L508.8,329.2 L509.3,733.8 L509.7,343.8 L510.2,733.8 L510.6,350.8 L511.1,349.2 L511.5,733.8 L512.0,733.8 L512.5,342.8 L512.9,733.8 L513.4,346.3 L513.8,733.8 L514.3,348.2 L514.7,733.8 L515.2,336.2 L515.6,733.8 L516.1,733.8 L516.5,733.8 L517.0,337.9 L517.4,733.8 L517.9,733.8 L518.3,338.0 L518.8,733.8 L519.2,336.5 L519.7,356.4 L520.1,733.8 L520.6,330.6 L521.0,733.8 L521.5,733.8 L521.9,733.8 L522.4,733.8 L522.8,337.3 L523.3,733.8 L523.7,733.8 L524.2,342.9 L524.6,733.8 L525.1,342.4 L525.5,733.8 L526.0,347.4 L526.4,733.8 L526.9,351.8 L527.3,733.8 L527.8,733.8 L528.2,340.4 L528.7,342.9 L529.1,733.8 L529.6,332.2 L530.0,733.8 L530.5,733.8 L530.9,733.8 L531.4,733.8 L531.8,733.8 L532.3,347.3 L532.7,361.3 L533.2,733.8 L533.6,733.8 L534.1,361.1 L534.5,733.8 L535.0,338.9 L535.4,733.8 L535.9,733.8 L536.3,346.1 L536.8,360.8 L537.2,733.8 L537.7,373.1 L538.1,733.8 L538.6,338.0 L539.0,733.8 L539.5,733.8 L539.9,357.9 L540.4,733.8 L540.8,358.4 L541.3,733.8 L541.7,733.8 L542.2,334.8 L542.6,338.0 L543.1,733.8 L543.5,733.8 L544.0,733.8 L544.4,344.1 L544.9,340.0 L545.3,733.8 L545.8,329.0 L546.2,733.8 L546.7,326.8 L547.1,733.8 L547.6,733.8 L548.0,360.0 L548.5,339.7 L548.9,733.8 L549.4,332.9 L549.8,733.8 L550.3,733.8 L550.7,339.2 L551.2,733.8 L551.6,340.3 L552.1,733.8 L552.5,345.4 L553.0,358.9 L553.4,733.8 L553.9,336.3 L554.3,733.8 L554.8,733.8 L555.2,369.3 L555.7,343.1 L556.1,733.8 L556.6,340.4 L557.0,733.8 L557.5,733.8 L557.9,331.7 L558.4,733.8 L558.8,331.1 L559.3,733.8 L559.7,354.3 L560.2,733.8 L560.6,340.4 L561.1,377.4 L561.5,733.8 L562.0,733.8 L562.4,733.8 L562.9,332.8 L563.3,733.8 L563.8,342.1 L564.2,733.8 L564.7,335.6 L565.1,733.8 L565.6,386.5 L566.0,347.9 L566.5,733.8 L566.9,354.1 L567.4,733.8 L567.8,733.8 L568.3,733.8 L568.7,733.8 L569.2,333.2 L569.6,733.8 L570.1,733.8 L570.5,348.0 L571.0,733.8 L571.4,733.8 L571.9,733.8 L572.3,340.3 L572.8,733.8 L573.2,386.3 L573.7,344.1 L574.1,733.8 L574.6,733.8 L575.0,733.8 L575.5,347.6 L575.9,733.8 L576.4,733.8 L576.8,733.8 L577.3,343.9 L577.7,733.8 L578.2,733.8 L578.6,366.7 L579.1,733.8 L579.5,733.8 L580.0,733.8 L580.5,350.3 L580.9,364.9 L581.4,368.8 L581.8,733.8 L582.3,347.6 L582.7,733.8 L583.2,733.8 L583.6,328.4 L584.1,733.8 L584.5,733.8 L585.0,348.2 L585.4,339.6 L585.9,733.8 L586.3,337.0 L586.8,733.8 L587.2,362.2 L587.7,733.8 L588.1,733.8 L588.6,733.8 L589.0,733.8 L589.5,733.8 L589.9,733.8 L590.4,339.9 L590.8,733.8 L591.3,733.8 L591.7,346.5 L592.2,733.8 L592.6,733.8 L593.1,342.5 L593.5,733.8 L594.0,733.8 L594.4,349.6 L594.9,733.8 L595.3,349.1 L595.8,733.8 L596.2,733.8 L596.7,394.3 L597.1,381.2 L597.6,733.8 L598.0,733.8 L598.5,733.8 L598.9,733.8 L599.4,371.7 L599.8,733.8 L600.3,733.8 L600.7,360.2 L601.2,345.0 L601.6,733.8 L602.1,733.8 L602.5,346.6 L603.0,373.5 L603.4,733.8 L603.9,330.3 L604.3,733.8 L604.8,733.8 L605.2,342.0 L605.7,733.8 L606.1,376.6 L606.6,733.8 L607.0,733.8 L607.5,733.8 L607.9,733.8 L608.4,733.8 L608.8,733.8 L609.3,733.8 L609.7,339.9 L610.2,733.8 L610.6,334.4 L611.1,733.8 L611.5,733.8 L612.0,376.6 L612.4,733.8 L612.9,332.1 L613.3,367.3 L613.8,733.8 L614.2,733.8 L614.7,733.8 L615.1,342.5 L615.6,382.3 L616.0,733.8 L616.5,364.9 L616.9,349.3 L617.4,733.8 L617.8,733.8 L618.3,351.6 L618.7,733.8 L619.2,733.8 L619.6,335.0 L620.1,733.8 L620.5,356.2 L621.0,733.8 L621.4,733.8 L621.9,350.5 L622.3,733.8 L622.8,733.8 L623.2,733.8 L623.7,340.4 L624.1,733.8 L624.6,345.3 L625.0,733.8 L625.5,733.8 L625.9,336.1 L626.4,733.8 L626.8,733.8 L627.3,733.8 L627.7,733.8 L628.2,333.8 L628.6,342.3 L629.1,733.8 L629.5,733.8 L630.0,733.8 L630.4,733.8 L630.9,340.5 L631.3,733.8 L631.8,733.8 L632.2,364.0 L632.7,336.1 L633.1,733.8 L633.6,733.8 L634.0,733.8 L634.5,733.8 L634.9,343.5 L635.4,733.8 L635.8,733.8 L636.3,336.0 L636.7,733.8 L637.2,733.8 L637.6,343.3 L638.1,341.8 L638.5,733.8 L639.0,733.8 L639.4,733.8 L639.9,343.6 L640.3,733.8 L640.8,733.8 L641.2,733.8 L641.7,332.7 L642.1,733.8 L642.6,733.8 L643.0,342.7 L643.5,335.7 L643.9,733.8 L644.4,338.1 L644.8,338.4 L645.3,733.8 L645.7,733.8 L646.2,382.9 L646.6,733.8 L647.1,336.3 L647.5,733.8 L648.0,733.8"/>
<path stroke="#d62728" d="M90.0,319.3 L90.7,321.5 L91.4,333.6 L92.1,327.0 L92.8,329.2 L93.5,321.9 L94.2,327.5 L94.9,321.7 L95.6,345.5 L96.3,316.5 L97.0,330.3 L97.7,322.0 L98.4,328.4 L99.1,328.4 L99.8,322.6 L100.5,322.1 L101.2,329.2 L101.9,326.5 L102.6,321.8 L103.3,336.0 L104.0,338.8 L104.7,321.3 L105.4,332.4 L106.1,345.4 L106.8,327.5 L107.5,327.4 L108.2,335.6 L108.9,336.8 L109.6,323.0 L110.3,321.1 L111.0,329.6 L111.7,331.2 L112.4,322.4 L113.1,322.4 L113.8,329.7 L114.5,322.2 L115.2,321.1 L115.9,329.7 L116.6,331.9 L117.3,322.4 L118.0,324.9 L118.7,320.4 L119.4,345.3 L120.1,327.7 L120.8,330.7 L121.5,343.2 L122.2,322.1 L122.9,322.9 L123.6,333.4 L124.3,318.1 L125.0,323.3 L125.7,323.5 L126.4,324.4 L127.1,321.2 L127.8,345.2 L128.5,320.4 L129.2,323.2 L129.9,345.2 L130.6,321.0 L131.3,328.2 L132.0,321.1 L132.7,330.9 L133.4,324.9 L134.1,323.6 L134.8,334.2 L135.5,321.1 L136.2,327.6 L136.9,322.6 L137.6,330.8 L138.3,319.4 L139.0,323.9 L139.7,328.1 L140.4,321.8 L141.1,320.1 L141.8,318.8 L142.5,345.1 L143.2,319.0 L143.9,324.3 L144.6,327.1 L145.3,334.0 L146.0,318.2 L146.7,345.0 L147.4,320.6 L148.1,319.8 L148.8,345.0 L149.5,324.4 L150.2,337.2 L150.9,322.0 L151.6,318.6 L152.3,318.1 L153.0,345.0 L153.7,325.7 L154.4,320.9 L155.1,318.9 L155.8,325.8 L156.5,332.6 L157.2,322.5 L157.9,326.1 L158.6,326.7 L159.3,330.5 L160.0,322.1 L160.7,324.3 L161.4,326.6 L162.1,326.7 L162.8,336.9 L163.5,326.0 L164.2,318.9 L164.9,329.4 L165.6,339.7 L166.3,317.4 L167.0,324.6 L167.7,316.8 L168.4,329.5 L169.1,328.7 L169.8,338.2 L170.5,317.4 L171.2,316.1 L171.9,344.1 L172.6,328.1 L173.3,321.1 L174.0,333.9 L174.7,325.4 L175.4,327.0 L176.1,323.5 L176.8,320.0 L177.5,327.3 L178.2,320.6 L178.9,330.5 L179.6,322.7 L180.3,344.7 L181.0,331.5 L181.7,319.2 L182.4,331.7 L183.1,321.2 L183.8,323.1 L184.5,319.5 L185.2,322.8 L185.9,321.1 L186.6,328.0 L187.3,330.0 L188.0,328.8 L188.7,326.9 L189.4,333.2 L190.1,326.5 L190.8,324.7 L191.5,323.5 L192.2,327.9 L192.9,344.6 L193.6,322.3 L194.3,323.6 L195.0,320.0 L195.7,323.6 L196.4,331.3 L197.1,328.8 L197.8,315.8 L198.5,324.1 L199.2,317.7 L199.9,317.8 L200.6,340.0 L201.3,321.6 L202.0,323.1 L202.7,322.6 L203.4,322.9 L204.1,324.7 L204.8,324.3 L205.5,341.9 L206.2,323.3 L206.9,330.1 L207.6,323.0 L208.3,328.4 L209.0,321.0 L209.7,321.6 L210.4,324.5 L211.1,323.6 L211.8,324.9 L212.5,328.2 L213.2,325.1 L213.9,327.9 L214.6,322.0 L215.3,325.5 L216.0,321.8 L216.7,340.5 L217.4,318.8 L218.1,333.3 L218.8,328.4 L219.5,324.7 L220.2,328.3 L220.9,322.4 L221.6,329.6 L222.3,331.8 L223.0,328.5 L223.7,317.8 L224.4,327.1 L225.1,335.1 L225.8,322.8 L226.5,341.4 L227.2,315.6 L227.9,344.3 L228.6,320.1 L229.3,322.6 L230.0,342.5 L230.7,321.0 L231.4,320.2 L232.1,323.8 L232.8,324.0 L233.5,320.3 L234.2,325.4 L234.9,323.1 L235.6,326.1 L236.3,321.2 L237.0,334.0 L237.7,319.4 L238.4,329.9 L239.1,331.7 L239.8,321.0 L240.5,317.0 L241.2,316.5 L241.9,317.5 L242.6,313.7 L243.3,315.6 L244.0,314.0 L244.7,313.4 L245.4,317.5 L246.1,311.8 L246.8,314.6 L247.5,313.2 L248.2,314.4 L248.9,314.0 L249.6,312.9 L250.3,310.6 L251.0,310.2 L251.7,312.6 L252.4,310.3 L253.1,312.3 L253.8,314.0 L254.5,310.3 L255.2,310.4 L255.9,311.3 L256.6,309.7 L257.3,309.3 L258.0,310.5 L258.7,310.2 L259.4,308.2 L260.1,308.2 L260.8,308.0 L261.5,306.4 L262.2,306.0 L262.9,308.3 L263.6,306.8 L264.3,307.2 L265.0,308.0 L265.7,308.2 L266.4,310.5 L267.1,309.4 L267.8,308.9 L268.5,311.3 L269.2,313.4 L269.9,311.5 L270.6,311.5 L271.3,313.5 L272.0,314.8 L272.7,311.3 L273.4,316.5 L274.1,311.9 L274.8,312.8 L275.5,313.6 L276.2,309.2 L276.9,310.4 L277.6,311.2 L278.3,308.0 L279.0,309.2 L279.7,310.3 L280.4,308.5 L281.1,308.1 L281.8,308.3 L282.5,309.4 L283.2,309.9 L283.9,309.9 L284.6,311.3 L285.3,309.6 L286.0,311.7 L286.7,311.4 L287.4,311.4 L288.1,314.0 L288.8,312.9 L289.5,309.8 L290.2,310.7 L290.9,309.0 L291.6,306.2 L292.3,305.0 L293.0,301.9 L293.7,300.2 L294.4,297.8 L295.1,297.2 L295.8,294.4 L296.5,294.2 L297.2,293.5 L297.9,292.7 L298.6,293.1 L299.3,293.5 L300.0,294.7 L300.5,294.7 L301.0,294.6 L301.5,296.9 L302.0,297.2 L302.5,298.7 L303.0,299.9 L303.5,301.7 L304.0,302.6 L304.5,303.2 L305.0,304.2 L305.5,304.7 L306.0,305.8 L306.5,305.9 L307.0,305.4 L307.5,304.2 L308.0,301.6 L308.5,298.7 L309.0,296.0 L309.5,293.3 L310.0,290.4 L310.5,287.4 L311.0,284.4 L311.5,281.9 L312.0,279.8 L312.5,277.9 L313.0,276.1 L313.5,274.5 L314.0,273.2 L314.5,272.3 L315.0,271.8 L315.5,271.3 L316.0,270.9 L316.5,270.7 L317.0,270.6 L317.5,271.0 L318.0,271.7 L318.5,272.8 L319.0,274.0 L319.5,275.2 L320.0,276.8 L320.5,278.7 L321.0,280.8 L321.5,283.0 L322.0,285.2 L322.5,287.3 L323.0,289.4 L323.5,291.5 L324.0,293.4 L324.5,295.0 L325.0,296.6 L325.5,297.9 L326.0,298.6 L326.5,298.0 L327.0,296.0 L327.5,293.3 L328.0,290.6 L328.5,287.3 L329.0,283.5 L329.5,279.3 L330.0,275.2 L330.5,271.5 L331.0,268.0 L331.5,264.5 L332.0,261.1 L332.5,258.0 L333.0,255.4 L333.5,253.5 L334.0,251.7 L334.5,250.0 L335.0,248.6 L335.5,247.5 L336.0,246.8 L336.5,246.7 L337.0,247.2 L337.5,248.1 L338.0,249.3 L338.5,250.9 L339.0,252.8 L339.5,254.8 L340.0,257.0 L340.5,259.3 L341.0,262.9 L341.5,267.2 L342.0,271.7 L342.5,275.7 L343.0,279.7 L343.5,283.5 L344.0,286.6 L344.5,288.8 L345.0,290.3 L345.5,289.6 L346.0,287.5 L346.5,284.7 L347.0,281.0 L347.5,276.0 L348.0,270.4 L348.5,264.9 L349.0,260.0 L349.5,255.1 L350.0,250.0 L350.5,244.5 L351.0,238.7 L351.5,232.6 L352.0,225.9 L352.5,218.4 L353.0,210.8 L353.5,204.0 L354.0,196.9 L354.5,191.3 L355.0,188.7 L355.5,187.1 L356.0,186.3 L356.5,186.0 L357.0,185.9 L357.5,185.8 L358.0,185.9 L358.5,186.0 L359.0,186.3 L359.5,186.9 L360.0,188.2 L360.5,190.0 L361.0,195.0 L361.5,203.2 L362.0,212.7 L362.5,224.3 L363.0,233.2 L363.5,241.1 L364.0,246.2 L364.5,245.2 L365.0,238.1 L365.5,230.0 L366.0,223.1 L366.5,215.8 L367.0,208.0 L367.5,198.7 L368.0,190.0 L368.5,183.2 L369.0,177.4 L369.5,173.3 L370.0,170.7 L370.5,168.5 L371.0,166.8 L371.5,165.5 L372.0,164.4 L372.5,163.3 L373.0,162.4 L373.5,161.7 L374.0,161.3 L374.5,161.3 L375.0,161.4 L375.5,161.6 L376.0,162.0 L376.5,162.3 L377.0,162.8 L377.5,163.3 L378.0,164.3 L378.5,165.8 L379.0,167.8 L379.5,170.0 L380.0,172.3 L380.5,175.1 L381.0,178.2 L381.5,181.8 L382.0,185.7 L382.5,190.4 L383.0,196.0 L383.5,203.3 L384.0,213.8 L384.5,223.9 L385.0,234.5 L385.5,240.0 L386.0,235.9 L386.5,227.2 L387.0,218.6 L387.5,209.1 L388.0,200.0 L388.5,192.8 L389.0,185.1 L389.5,176.5 L390.0,170.0 L390.5,165.9 L391.0,162.6 L391.5,160.0 L392.0,158.3 L392.5,157.1 L393.0,156.0 L393.5,155.1 L394.0,154.3 L394.5,153.9 L395.0,153.7 L395.5,153.9 L396.0,154.5 L396.5,155.3 L397.0,156.3 L397.5,157.4 L398.0,159.0 L398.5,161.0 L399.0,163.4 L399.5,165.8 L400.0,168.3 L400.5,170.7 L401.0,173.3 L401.5,176.3 L402.0,180.0 L402.5,184.9 L403.0,191.3 L403.5,199.9 L404.0,212.0 L404.5,225.3 L405.0,225.9 L405.5,218.8 L406.0,210.9 L406.5,201.7 L407.0,192.0 L407.5,180.6 L408.0,170.4 L408.5,167.1 L409.0,165.3 L409.5,164.0 L410.0,163.1 L410.5,162.1 L411.0,161.0 L411.5,159.7 L412.0,158.3 L412.5,157.0 L413.0,155.8 L413.5,154.6 L414.0,154.7 L414.5,155.8 L415.0,156.8 L415.5,157.9 L416.0,159.0 L416.5,160.0 L417.0,160.9 L417.5,161.8 L418.0,163.0 L418.5,164.6 L419.0,167.3 L419.5,171.4 L420.0,176.3 L420.5,181.7 L421.0,187.6 L421.5,194.9 L422.0,204.9 L422.5,217.0 L423.0,226.3 L423.5,223.7 L424.0,217.9 L424.5,211.1 L425.0,201.6 L425.5,192.0 L426.0,183.1 L426.5,175.3 L427.0,171.0 L427.5,167.8 L428.0,165.7 L428.5,164.7 L429.0,164.1 L429.5,163.7 L430.0,163.4 L430.5,163.3 L431.0,163.5 L431.5,164.0 L432.0,164.8 L432.5,165.8 L433.0,167.6 L433.5,170.7 L434.0,174.8 L434.5,180.4 L435.0,189.1 L435.5,199.4 L436.0,212.0 L436.5,225.6 L437.0,235.1 L437.5,242.1 L438.0,248.2 L438.5,254.0 L439.0,259.1 L439.5,264.1 L440.0,270.0 L440.5,277.9 L441.0,286.5 L441.7,296.7 L442.4,300.7 L443.1,302.2 L443.8,304.6 L444.5,304.6 L445.2,307.0 L445.9,307.0 L446.6,310.0 L447.3,311.4 L448.0,309.9 L448.7,309.7 L449.4,312.6 L450.1,311.0 L450.8,312.1 L451.5,312.4 L452.2,311.8 L452.9,311.5 L453.6,315.3 L454.3,313.7 L455.0,316.0 L455.7,320.3 L456.4,316.4 L457.1,318.2 L457.8,324.9 L458.5,318.4 L459.2,323.9 L459.9,323.8 L460.6,320.4 L461.3,324.8 L462.0,323.8 L462.7,321.2 L463.4,322.7 L464.1,323.7 L464.8,332.4 L465.5,330.2 L466.2,321.1 L466.9,331.6 L467.6,324.5 L468.3,331.5 L469.0,325.8 L469.7,333.0 L470.4,733.8 L471.1,336.4 L471.8,326.0 L472.5,733.8 L473.2,322.0 L473.9,343.7 L474.6,325.4 L475.3,328.7 L476.0,324.6 L476.7,326.0 L477.4,332.0 L478.1,325.9 L478.9,733.8 L479.6,325.1 L480.3,329.9 L481.0,333.0 L481.7,327.5 L482.4,326.5 L483.1,319.4 L483.8,340.1 L484.5,733.8 L485.2,322.2 L485.9,733.8 L486.6,340.3 L487.3,334.8 L488.0,327.8 L488.7,318.7 L489.4,332.1 L490.1,323.7 L490.8,334.5 L491.5,351.8 L492.2,351.9 L492.9,321.3 L493.6,330.8 L494.3,347.7 L495.0,322.2 L495.7,352.1 L496.4,321.9 L497.1,323.9 L497.8,345.0 L498.5,339.3 L499.2,323.7 L499.9,349.9 L500.6,733.8 L501.3,352.6 L502.0,323.9 L502.7,331.9 L503.4,334.9 L504.1,338.9 L504.8,327.5 L505.5,353.2 L506.2,329.0 L506.9,334.1 L507.6,326.2 L508.3,353.7 L509.0,320.7 L509.7,342.0 L510.4,347.5 L511.1,322.2 L511.8,733.8 L512.5,341.3 L513.2,346.2 L513.9,331.9 L514.6,348.6 L515.3,338.8 L516.0,325.2 L516.6,350.1 L517.2,342.5 L517.8,338.4 L518.4,349.3 L519.0,332.9 L519.6,337.8 L520.2,733.8 L520.8,339.9 L521.4,324.4 L522.0,733.8 L522.6,369.8 L523.2,325.5 L523.8,733.8 L524.4,733.8 L525.0,330.9 L525.6,733.8 L526.2,349.3 L526.8,337.7 L527.4,370.2 L528.0,733.8 L528.6,356.3 L529.2,372.9 L529.8,329.6 L530.4,733.8 L531.0,361.6 L531.6,324.7 L532.2,733.8 L532.8,327.7 L533.4,340.1 L534.0,733.8 L534.6,733.8 L535.2,331.7 L535.8,341.6 L536.4,338.8 L537.0,733.8 L537.6,332.3 L538.2,337.1 L538.8,733.8 L539.4,326.3 L540.0,733.8 L540.6,733.8 L541.2,355.8 L541.8,326.1 L542.4,358.8 L543.0,733.8 L543.6,333.4 L544.2,380.0 L544.8,364.1 L545.4,733.8 L546.0,733.8 L546.6,328.6 L547.2,733.8 L547.8,350.2 L548.4,733.8 L549.0,733.8 L549.6,332.9 L550.2,359.5 L550.8,733.8 L551.4,733.8 L552.0,355.1 L552.6,332.3 L553.2,733.8 L553.8,350.3 L554.4,733.8 L555.0,366.0 L555.6,344.7 L556.2,733.8 L556.8,323.4 L557.4,733.8 L558.0,379.4 L558.6,329.0 L559.2,733.8 L559.8,368.2 L560.4,733.8 L561.0,733.8 L561.6,334.3 L562.2,333.8 L562.8,733.8 L563.4,327.7 L564.0,733.8 L564.6,377.7 L565.2,335.9 L565.8,733.8 L566.4,338.9 L567.0,733.8 L567.6,733.8 L568.2,733.8 L568.8,733.8 L569.4,733.8 L570.0,733.8 L570.6,334.0 L571.2,733.8 L571.8,733.8 L572.4,319.8 L573.0,733.8 L573.6,733.8 L574.2,327.4 L574.8,342.9 L575.4,733.8 L576.0,733.8 L576.6,733.8 L577.2,329.1 L577.8,733.8 L578.4,733.8 L579.0,344.5 L579.6,332.9 L580.2,733.8 L580.8,345.4 L581.4,733.8 L582.0,322.3 L582.6,340.4 L583.2,370.1 L583.8,733.8 L584.4,338.7 L585.0,733.8 L585.6,331.0 L586.2,733.8 L586.8,733.8 L587.4,361.8 L588.0,360.7 L588.6,338.3 L589.2,345.6 L589.8,733.8 L590.4,733.8 L591.0,333.2 L591.6,733.8 L592.2,332.8 L592.8,733.8 L593.4,733.8 L594.0,334.9 L594.6,324.8 L595.2,733.8 L595.8,733.8 L596.4,335.5 L597.0,363.6 L597.6,352.6 L598.2,733.8 L598.8,346.6 L599.4,353.9 L600.0,733.8 L600.6,733.8 L601.2,338.7 L601.8,336.8 L602.4,356.5 L603.0,355.2 L603.6,350.9 L604.2,325.4 L604.8,733.8 L605.4,336.8 L606.0,331.7 L606.6,733.8 L607.2,351.0 L607.8,336.8 L608.4,334.3 L609.0,733.8 L609.6,353.0 L610.2,733.8 L610.8,733.8 L611.4,328.6 L612.0,733.8 L612.6,733.8 L613.2,338.2 L613.8,733.8 L614.4,380.7 L615.0,342.0 L615.6,733.8 L616.2,330.1 L616.8,733.8 L617.4,334.8 L618.0,345.6 L618.6,333.9 L619.2,357.0 L619.8,733.8 L620.4,378.6 L621.0,733.8 L621.6,333.8 L622.2,733.8 L622.8,337.1 L623.4,733.8 L624.0,349.3 L624.6,733.8 L625.2,325.6 L625.8,733.8 L626.4,341.4 L627.0,356.3 L627.6,344.7 L628.2,357.6 L628.8,354.1 L629.4,339.1 L630.0,733.8 L630.6,337.8 L631.2,733.8 L631.8,336.8 L632.4,733.8 L633.0,733.8 L633.6,344.5 L634.2,331.4 L634.8,733.8 L635.4,373.7 L636.0,333.2 L636.6,733.8 L637.2,733.8 L637.8,339.5 L638.4,381.6 L639.0,331.8 L639.6,331.2 L640.2,733.8 L640.8,321.4 L641.4,353.3 L642.0,374.8 L642.6,733.8 L643.2,326.0 L643.8,733.8 L644.4,733.8 L645.0,346.4 L645.6,733.8 L646.2,333.4 L646.8,733.8 L647.4,346.6 L648.0,354.6"/>
</g>
<rect x="90.5" y="52.5" width="558.0" height="326.0" fill="none" stroke="#cfcfcf" stroke-width="1"/>
<text transform="translate(78.47,391.70) scale(0.9404,1)" font-size="14.8">840</text>
<text transform="translate(152.86,391.70) scale(0.9453,1)" font-size="14.8">842</text>
<text transform="translate(227.27,391.70) scale(0.9353,1)" font-size="14.8">844</text>
<text transform="translate(301.66,391.70) scale(0.9453,1)" font-size="14.8">846</text>
<text transform="translate(376.06,391.70) scale(0.9453,1)" font-size="14.8">848</text>
<text transform="translate(450.47,391.70) scale(0.9404,1)" font-size="14.8">850</text>
<text transform="translate(524.86,391.70) scale(0.9453,1)" font-size="14.8">852</text>
<text transform="translate(599.27,391.70) scale(0.9353,1)" font-size="14.8">854</text>
<text transform="translate(70.58,57.14) scale(0.9650,1)" font-size="14.8">20</text>
<text transform="translate(78.28,116.44) scale(1.0000,1)" font-size="14.8">0</text>
<text transform="translate(63.21,175.74) scale(0.9263,1)" font-size="14.8">−20</text>
<text transform="translate(63.21,235.05) scale(0.9263,1)" font-size="14.8">−40</text>
<text transform="translate(63.21,294.35) scale(0.9263,1)" font-size="14.8">−60</text>
<text transform="translate(63.21,353.65) scale(0.9263,1)" font-size="14.8">−80</text>
<text transform="translate(287.50,45.80) scale(1.0840,1)" font-size="16">D4425 V20208 Ch. 6</text>
<text transform="translate(304.27,412.00) scale(1.0832,1)" font-size="16">Wavelength [nm]</text>
<text transform="translate(53.70,286.81) rotate(-90) scale(1.0794,1)" font-size="16">Optical Power [dB]</text>
<rect x="97.5" y="59.5" width="146.9" height="67.7" rx="2.8" ry="2.8" fill="#ffffff" fill-opacity="0.8" stroke="#cccccc" stroke-opacity="0.8" stroke-width="1"/>
<line x1="102.6" y1="70.9" x2="132.2" y2="70.9" stroke="#bcbd22" stroke-width="1.75"/>
<text transform="translate(142.97,75.70) scale(1.0227,1)" font-size="14">OptoBoard QA</text>
<line x1="102.6" y1="91.9" x2="132.2" y2="91.9" stroke="#ff7f0e" stroke-width="1.75"/>
<text transform="translate(142.44,96.70) scale(1.0388,1)" font-size="14">Post Burn-In</text>
<line x1="102.6" y1="112.8" x2="132.2" y2="112.8" stroke="#d62728" stroke-width="1.75"/>
<text transform="translate(142.44,117.60) scale(1.0383,1)" font-size="14">Pre Burn-In</text>
</svg>
</body></html>
